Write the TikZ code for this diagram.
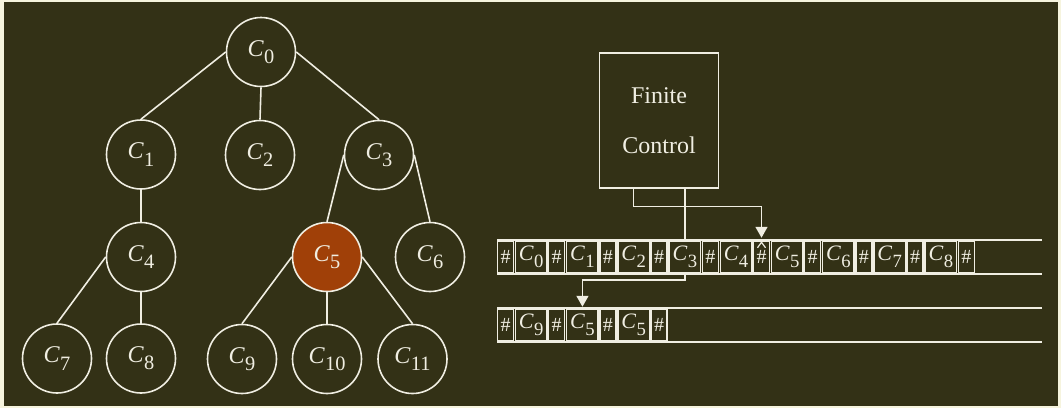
\documentclass[tikz,border=0pt]{standalone}
\usepackage{fontspec}
\setmainfont{Liberation Serif}
\usetikzlibrary{arrows.meta,calc}
\definecolor{bgdark}{RGB}{51,49,22}
\definecolor{cream}{RGB}{246,244,222}
\definecolor{ink}{RGB}{240,238,226}
\definecolor{rust}{RGB}{160,64,8}
\newcommand\Cn[1]{\textit{C}\kern0.3pt\raisebox{-0.3em}{\scalebox{0.85}{#1}}}
\begin{document}
\begin{tikzpicture}[x=1pt,y=-1pt,
  tnode/.style={circle,draw=ink,line width=1.6pt,minimum size=69pt,inner sep=0pt,text=ink,font=\fontsize{24}{28}\selectfont},
  edge/.style={draw=ink,line width=1.6pt},
  cellbox/.style={draw=ink,line width=1.5pt,inner sep=0pt,minimum height=31pt,text=ink},
  hcell/.style={cellbox,minimum width=16pt,font=\fontsize{20}{22}\selectfont},
  ccell/.style={cellbox,minimum width=31.5pt,font=\fontsize{22}{24}\selectfont},
  conn/.style={draw=ink,line width=1.6pt},
  tip/.style={-{Triangle[width=12pt,length=11pt]}}]
% background
\fill[cream] (0,0) rectangle (1061,408);
\fill[bgdark] (4,2) rectangle (1058,406);
% tree
\node[tnode] (t0) at (261,52) {\Cn{0}};
\node[tnode] (t1) at (141,154.5) {\Cn{1}};
\node[tnode] (t2) at (260,155) {\Cn{2}};
\node[tnode] (t3) at (379,155) {\Cn{3}};
\node[tnode] (t4) at (141,257) {\Cn{4}};
\node[tnode,fill=rust] (t5) at (327,257) {\Cn{5}};
\node[tnode] (t6) at (430,257) {\Cn{6}};
\node[tnode] (t7) at (57,358.5) {\Cn{7}};
\node[tnode] (t8) at (141,358.5) {\Cn{8}};
\node[tnode] (t9) at (242,359) {\Cn{9}};
\node[tnode] (t10) at (327,359) {\Cn{10}};
\node[tnode] (t11) at (412.5,359) {\Cn{11}};
\draw[edge] (t0.west) -- (t1.north);
\draw[edge] (t0.south) -- (t2.north);
\draw[edge] (t0.east) -- (t3.north);
\draw[edge] (t1.south) -- (t4.north);
\draw[edge] (t3.west) -- (t5.north);
\draw[edge] (t3.east) -- (t6.north);
\draw[edge] (t4.west) -- (t7.north);
\draw[edge] (t4.south) -- (t8.north);
\draw[edge] (t5.west) -- (t9.north);
\draw[edge] (t5.south) -- (t10.north);
\draw[edge] (t5.east) -- (t11.north);
% finite control
\node[draw=ink,line width=1.6pt,minimum width=119pt,minimum height=135pt,text=ink,align=center,font=\fontsize{24}{50}\selectfont] (fc) at (659,120.5) {Finite\\Control};
% first tape
\draw[conn] (1042,240) -| (497.5,274) -- (1042,274);
\foreach \k in {0,...,9} \node[hcell] (h\k) at ({505.5+51.2*\k},257) {\#};
\foreach \k in {0,...,8} \node[ccell] (c\k) at ({531.25+51.2*\k},257) {\Cn{\k}};
\draw[conn,line width=1.2pt] ($(h5.north)+(-4,7)$) -- ($(h5.north)+(0,1.5)$) -- ($(h5.north)+(4,7)$);
% second tape
\draw[conn] (1042,308) -| (497.5,342) -- (1042,342);
\foreach \k in {0,...,3} \node[hcell] (g\k) at ({505.5+51.2*\k},325) {\#};
\node[ccell] (d0) at (531.25,325) {\Cn{9}};
\node[ccell] (d1) at (582.45,325) {\Cn{5}};
\node[ccell] (d2) at (633.65,325) {\Cn{5}};
% connectors
\draw[conn,tip] (c2 |- fc.south) -- ++(0,17.5) -| ([yshift=3pt]h5.north);
\draw[conn] (c3 |- fc.south) -- (c3.north);
\draw[conn,tip] (c3.south) -- ++(0,7) -| ([yshift=2pt]d1.north);
\end{tikzpicture}
\end{document}
